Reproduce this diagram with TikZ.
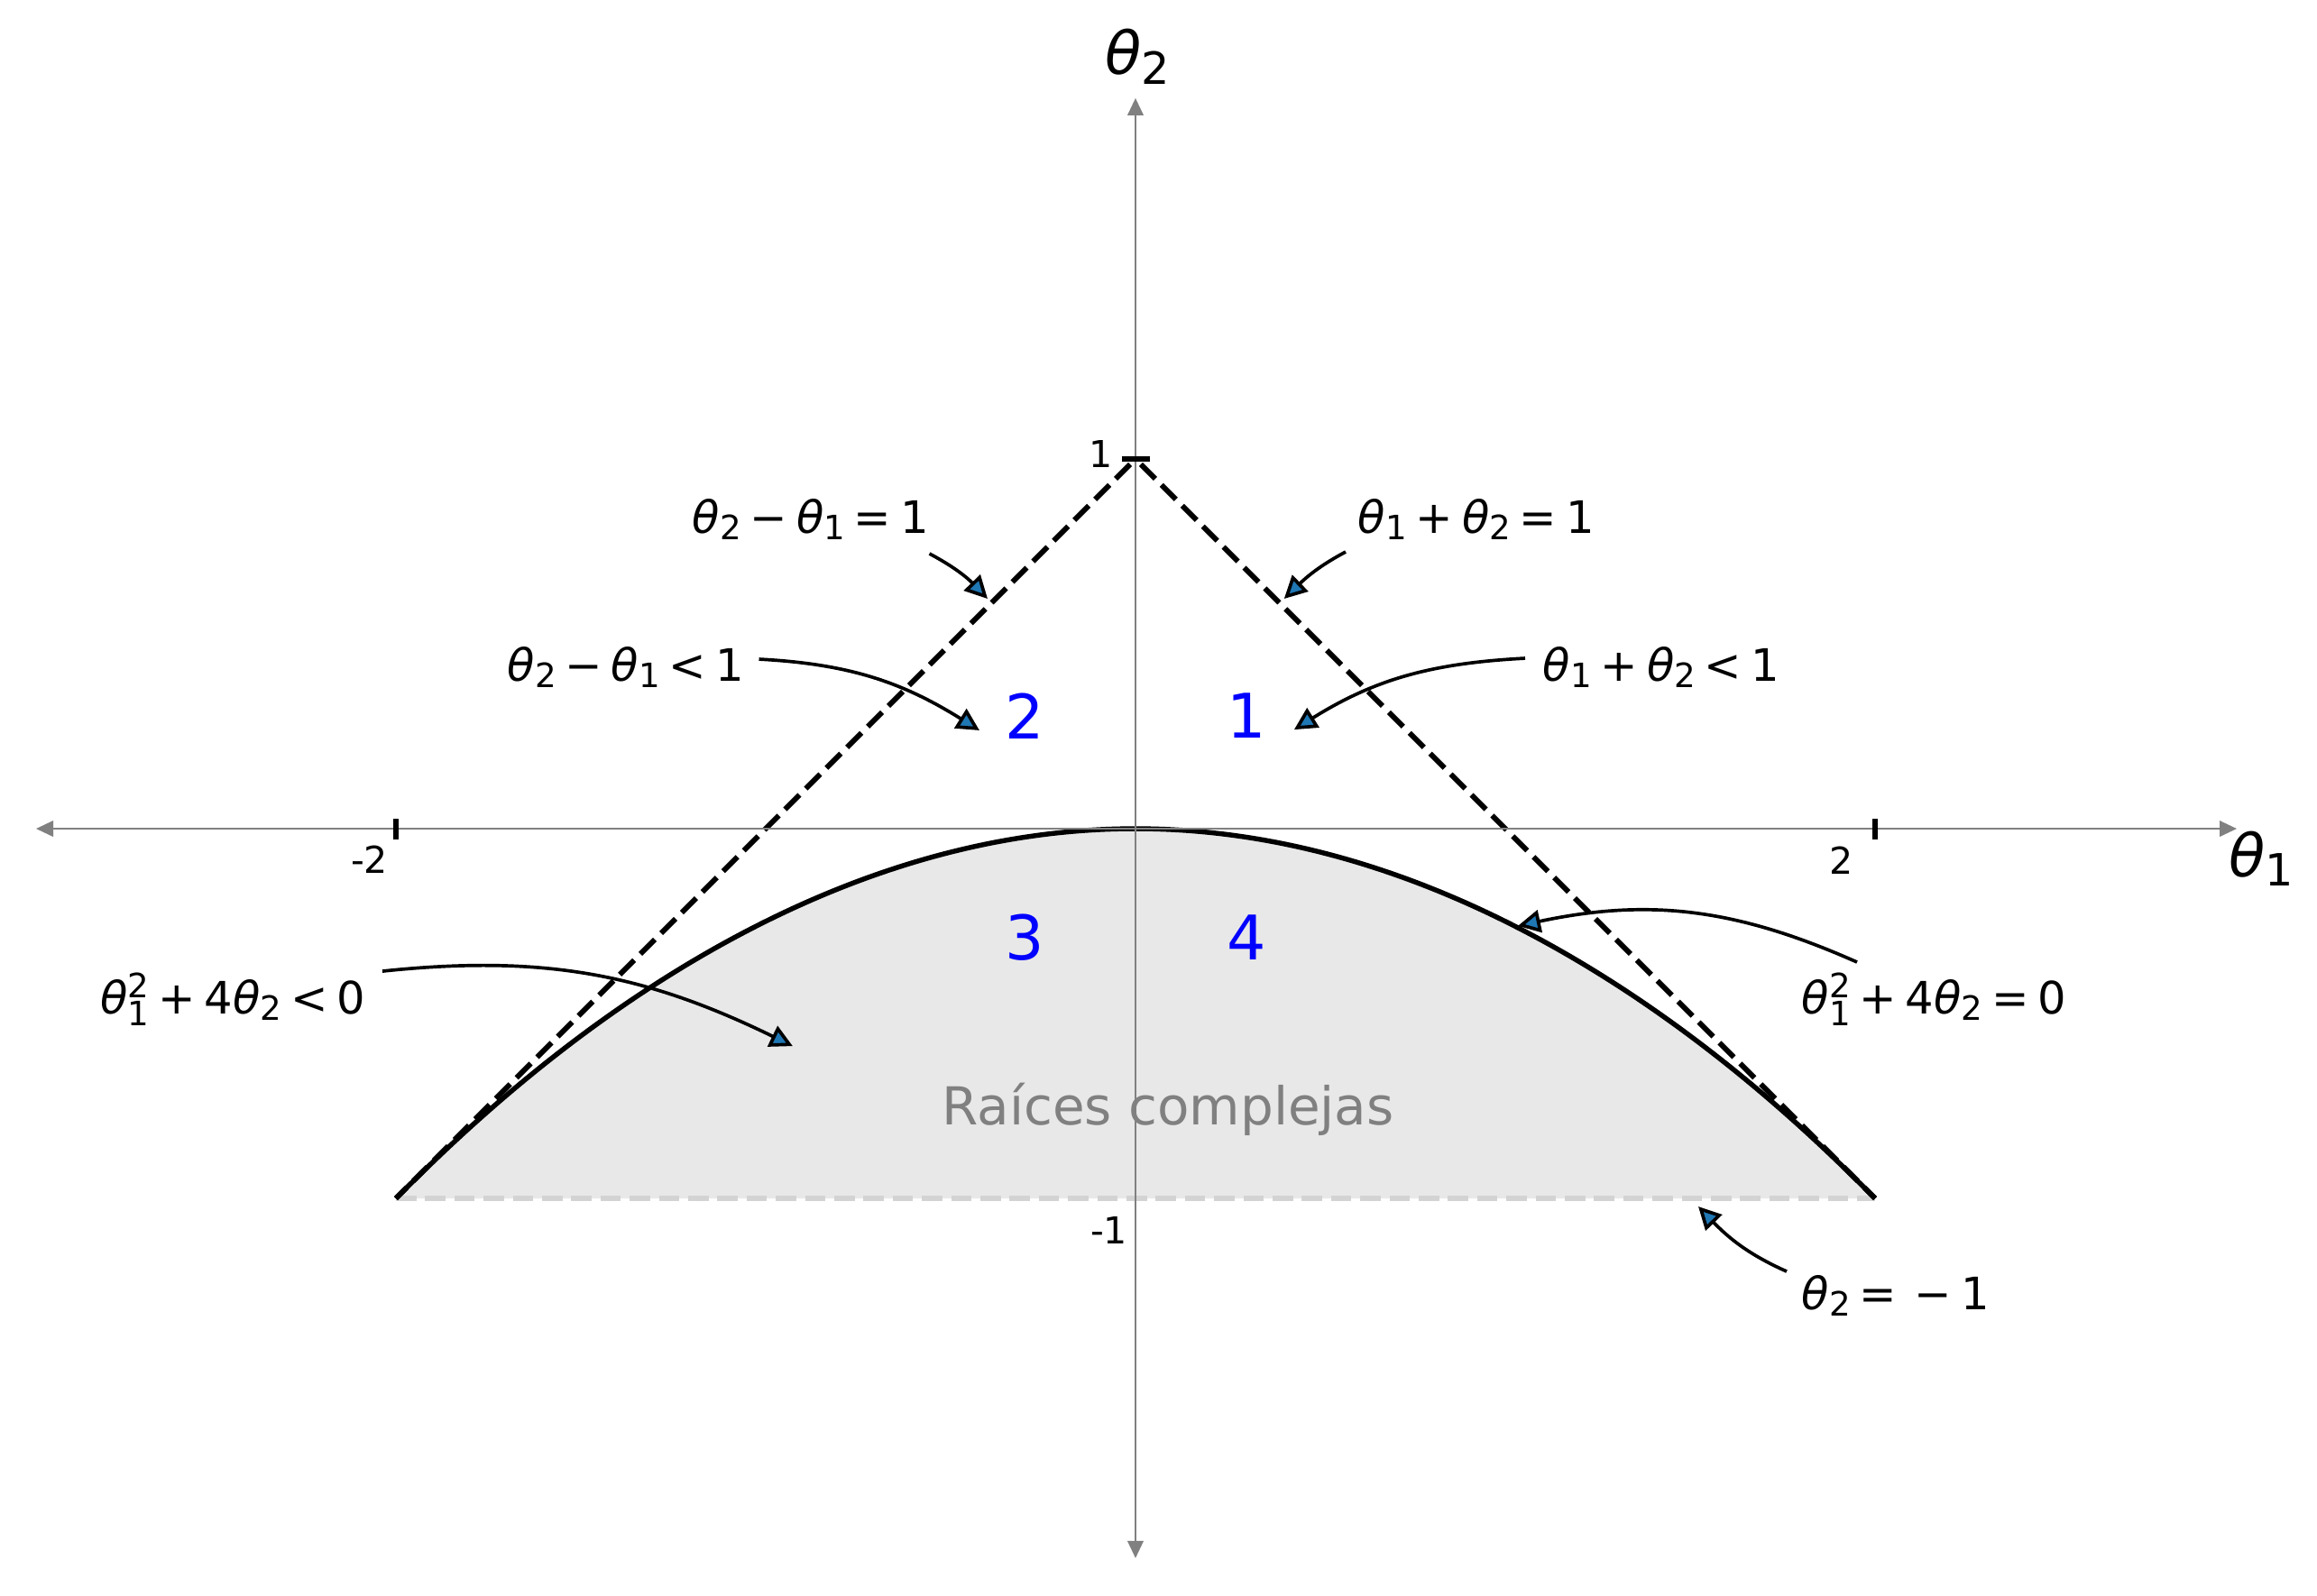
\documentclass[tikz,border=0pt]{standalone}
\usepackage{graphicx}
\usepackage{fontspec}
\setmainfont{DejaVu Sans}
\usetikzlibrary{arrows.meta}
\definecolor{tabblue}{RGB}{31,119,180}
\definecolor{regiongray}{RGB}{232,232,232}
\definecolor{axisgray}{RGB}{128,128,128}
\definecolor{dashgray}{RGB}{211,211,211}
\newcommand\thsub[1]{{\itshape θ}\raisebox{-0.16em}{\scalebox{0.75}{#1}}}
\newcommand\thsq[1]{{\itshape θ}\rlap{\raisebox{0.35em}{\scalebox{0.75}{2}}}\raisebox{-0.27em}{\scalebox{0.75}{#1}}}
\newcommand\op[1]{\hspace{0.2em}#1\hspace{0.2em}}
\begin{document}
\begin{tikzpicture}[x=4.1cm, y=4.1cm,
    lbl/.style={font=\fontsize{14.1}{17}\selectfont, inner sep=0pt, anchor=base west},
    annot/.style={line width=1.05pt, line join=miter, -{Triangle[length=2.5mm, width=2.5mm, fill=tabblue]}},
    bound/.style={line width=1.65pt, dash pattern=on 0.226cm off 0.098cm, dash phase=0.24cm},
    axis/.style={axisgray, line width=0.6pt, {Triangle[length=1.9mm, width=1.75mm]}-{Triangle[length=1.9mm, width=1.75mm]}},
    tickmark/.style={line width=1.7pt},
    ticklbl/.style={font=\fontsize{11.7}{14}\selectfont, inner sep=0pt, anchor=base east},
    regionnum/.style={font=\fontsize{19.4}{23}\selectfont, text=blue, inner sep=0pt},
    axislbl/.style={font=\fontsize{18.7}{22}\selectfont, inner sep=0pt}]
  \useasboundingbox (-3.0707,-2.0732) rectangle (3.1951,2.2415);

  \coordinate (apex) at (0,1);
  \coordinate (bl) at (-2,-1);
  \coordinate (br) at (2,-1);

  \fill[regiongray] (bl) parabola bend (0,0) (br) -- cycle;
  \draw[dashgray, line width=1.65pt, dash pattern=on 0.226cm off 0.098cm] (bl) -- (br);
  \draw[bound] (apex) -- (bl);
  \draw[bound] (apex) -- (br);
  \draw[line width=1.55pt] (bl) parabola bend (0,0) (br);

  \node[lbl] (l1) at (-1.2,0.8) {\thsub{2}\op{−}\thsub{1}\op{=}1};
  \node[lbl] (l2) at (0.6,0.8) {\thsub{1}\op{+}\thsub{2}\op{=}1};
  \node[lbl] (l3) at (-1.7,0.4) {\thsub{2}\op{−}\thsub{1}\op{<}1};
  \node[lbl] (l4) at (1.1,0.4) {\thsub{1}\op{+}\thsub{2}\op{<}1};
  \node[lbl] (l5) at (-2.8,-0.5) {\thsq{1}\op{+}4\thsub{2}\op{<}0};
  \node[lbl] (l6) at (1.8,-0.5) {\thsq{1}\op{+}4\thsub{2}\op{=}0};
  \node[lbl] (l7) at (1.8,-1.3) {\thsub{2}\op{=}\op{−}1};

  \coordinate (t1) at (-0.4,0.622);
  \coordinate (t2) at (0.402,0.622);
  \coordinate (t3) at (-0.422,0.266);
  \coordinate (t4) at (0.429,0.268);
  \coordinate (t5) at (-0.927,-0.588);
  \coordinate (t6) at (1.034,-0.263);
  \coordinate (t7) at (1.522,-1.022);

  \draw[annot] ([yshift=-0.23cm]l1.base east) to[out=-28, in=134] (t1);
  \draw[annot] ([shift={(-0.13cm,-0.21cm)}]l2.base west) to[out=-152, in=44] (t2);
  \draw[annot] ([shift={(0.16cm,0.24cm)}]l3.base east) to[out=-3, in=148] (t3);
  \draw[annot] ([shift={(-0.19cm,0.25cm)}]l4.base west) to[out=183, in=32] (t4);
  \draw[annot] ([shift={(0.18cm,0.47cm)}]l5.base east) to[out=6, in=154] (t5);
  \draw[annot] ([shift={(0.62cm,0.57cm)}]l6.base west) to[out=156, in=12] (t6);
  \draw[annot] ([shift={(-0.16cm,0.42cm)}]l7.base west) to[out=156, in=-46] (t7);

  \draw[axis] (-2.973,0) -- (2.978,0);
  \draw[axis] (0,-1.973) -- (0,1.976);
  \foreach \x in {-2,2}
    \draw[tickmark] (\x,-0.028) -- (\x,0.028);
  \draw[tickmark] (-0.037,1) -- (0.039,1);

  \node[ticklbl] (tm2) at (-2.02,-0.12) {-2};
  \node[ticklbl] (tp2) at (1.942,-0.122) {2};
  \node[ticklbl] (tp1) at (-0.06,0.978) {1};
  \node[ticklbl] (tm1) at (-0.02,-1.124) {-1};

  \node[regionnum] (r1) at (0.3,0.305) {1};
  \node[regionnum] (r2) at (-0.3,0.305) {2};
  \node[regionnum] (r3) at (-0.3,-0.295) {3};
  \node[regionnum] (r4) at (0.3,-0.295) {4};

  \node[font=\fontsize{16.5}{20}\selectfont, text=axisgray, inner sep=0pt, anchor=base west] (raices) at (-0.525,-0.8) {Raíces complejas};

  \node[axislbl, anchor=base west] (xlab) at (2.955,-0.13) {\thsub{1}};
  \node[axislbl, anchor=base] (ylab) at (0.005,2.04) {\thsub{2}};
\end{tikzpicture}
\end{document}
